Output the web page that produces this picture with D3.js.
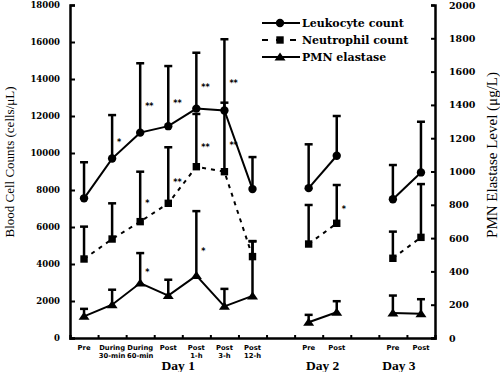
<!DOCTYPE html>
<html>
<head>
<meta charset="utf-8">
<script src="https://cdn.jsdelivr.net/npm/d3@7/dist/d3.min.js"></script>
<style>
  body { margin: 0; background: #fff; }
  .tick text { font-family: "DejaVu Serif", serif; font-weight: bold; }
</style>
</head>
<body>
<div class="chart"></div>
<script>
// time points (two-line labels), day each belongs to
var categories = [["Pre"], ["During", "30-min"], ["During", "60-min"], ["Post"], ["Post", "1-h"], ["Post", "3-h"], ["Post", "12-h"],
                  ["Pre"], ["Post"], ["Pre"], ["Post"]];
var dayOf = [0, 0, 0, 0, 0, 0, 0, 1, 1, 2, 2];
var days = ["Day 1", "Day 2", "Day 3"];
// slot on the x axis (gaps between days)
var slots = [0, 1, 2, 3, 4, 5, 6, 8, 9, 11, 12];

// Blood cell counts (cells/uL): mean and top of the error bar
var leukocyte    = [7550, 9700, 11100, 11450, 12400, 12300, 8050, 8100, 9850, 7500, 8950];
var leukocyteTop = [9500, 12050, 14850, 14700, 15420, 16150, 9780, 10470, 12000, 9350, 11690];
var neutrophil    = [4270, 5350, 6290, 7280, 9260, 8990, 4400, 5080, 6200, 4310, 5440];
var neutrophilTop = [6020, 7280, 8990, 10310, 12110, 12720, 5240, 7190, 8270, 5750, 8320];
// PMN elastase (ug/L)
var elastase    = [130, 200, 330, 255, 375, 190, 253, 95, 155, 150, 145];
var elastaseTop = [175, 290, 510, 350, 762, 295, 580, 139, 221, 255, 233];

// significance marks
var leukocyteSig  = ["", "*", "**", "**", "**", "**", "", "", "", "", ""];
var neutrophilSig = ["", "", "*", "**", "**", "**", "", "", "*", "", ""];
var elastaseSig   = ["", "", "*", "", "*", "", "", "", "", "", ""];

var leftTicks = d3.range(0, 18001, 2000);
var rightTicks = d3.range(0, 2001, 200);

var svgWidth = 500, svgHeight = 372;
var margin = { top: 5, right: 65, bottom: 34, left: 70 };
var width = svgWidth - margin.left - margin.right;
var height = svgHeight - margin.top - margin.bottom;

var svg = d3.select(".chart").append("svg")
  .attr("width", svgWidth)
  .attr("height", svgHeight);

var g = svg.append("g")
  .attr("transform", `translate(${margin.left}, ${margin.top})`);

var x = d3.scaleLinear().domain([0, 13]).range([0, width]);
var yL = d3.scaleLinear().domain([0, 18000]).range([height, 0]);
var yR = d3.scaleLinear().domain([0, 2000]).range([height, 0]);
var xc = i => x(slots[i] + 0.5);

// axes
var leftAxis = d3.axisLeft(yL).tickValues(leftTicks).tickSize(-5).tickPadding(10).tickFormat(d3.format("d"));
var rightAxis = d3.axisRight(yR).tickValues(rightTicks).tickSize(-4).tickPadding(14).tickFormat(d3.format("d"));
var bottomAxis = d3.axisBottom(x).tickValues(d3.range(1, 13)).tickSize(-3).tickFormat("");

var la = g.append("g").call(leftAxis);
la.selectAll("text").attr("font-size", 8.5);
var ra = g.append("g").attr("transform", `translate(${width}, 0)`).call(rightAxis);
ra.selectAll("text").attr("font-size", 9.5);
var ba = g.append("g").attr("transform", `translate(0, ${height})`).call(bottomAxis);
[la, ra, ba].forEach(a => {
  a.select(".domain").attr("stroke-width", 2.5);
  a.selectAll(".tick line").attr("stroke-width", 2);
});

// category labels
categories.forEach(function(lines, i) {
  var t = g.append("text")
    .attr("x", xc(i))
    .attr("y", height + 12)
    .attr("text-anchor", "middle")
    .attr("font-family", "DejaVu Sans, sans-serif")
    .attr("font-weight", "bold")
    .attr("font-size", 6.8);
  lines.forEach((s, k) => t.append("tspan").attr("x", xc(i)).attr("dy", k ? 7.5 : 0).text(s));
});

var dayShift = [10, 0, -8];
days.forEach(function(name, d) {
  var idx = d3.range(slots.length).filter(i => dayOf[i] === d);
  g.append("text")
    .attr("x", d3.mean(idx, xc) + dayShift[d])
    .attr("y", height + 32)
    .attr("text-anchor", "middle")
    .attr("font-family", "Liberation Serif, serif")
    .attr("font-weight", "bold")
    .attr("font-size", 13.5)
    .text(name);
});

// axis titles
svg.append("text")
  .attr("transform", "translate(9, 162) rotate(-90)")
  .attr("text-anchor", "middle")
  .attr("dominant-baseline", "central")
  .attr("font-family", "Liberation Serif, serif")
  .attr("font-size", 13)
  .text("Blood Cell Counts (cells/\u03bcL)");

svg.append("text")
  .attr("transform", "translate(492, 155) rotate(-90)")
  .attr("text-anchor", "middle")
  .attr("dominant-baseline", "central")
  .attr("font-family", "Liberation Serif, serif")
  .attr("font-size", 15)
  .text("PMN Elastase Level (\u03bcg/L)");

// one series: error bars, connecting lines per day, markers, stars
function drawSeries(mean, top, sig, y, dash, marker) {
  var idx = d3.range(mean.length);

  idx.forEach(function(i) {
    g.append("line")
      .attr("x1", xc(i)).attr("x2", xc(i))
      .attr("y1", y(mean[i])).attr("y2", y(top[i]))
      .attr("stroke", "#000").attr("stroke-width", 2.5);
    g.append("line")
      .attr("x1", xc(i) - 4).attr("x2", xc(i) + 4)
      .attr("y1", y(top[i])).attr("y2", y(top[i]))
      .attr("stroke", "#000").attr("stroke-width", 2.5);
    if (sig[i]) {
      g.append("text")
        .attr("x", xc(i) + 5)
        .attr("y", y(mean[i] + 0.4 * (top[i] - mean[i])) + 4)
        .attr("font-family", "DejaVu Sans, sans-serif")
        .attr("font-weight", "bold")
        .attr("font-size", 8)
        .text(sig[i]);
    }
  });

  var line = d3.line().x(i => xc(i)).y(i => y(mean[i]));
  days.forEach(function(name, d) {
    g.append("path")
      .datum(idx.filter(i => dayOf[i] === d))
      .attr("d", line)
      .attr("fill", "none")
      .attr("stroke", "#000")
      .attr("stroke-width", 2)
      .attr("stroke-dasharray", dash);
  });

  g.selectAll(null)
    .data(idx)
    .enter()
    .append("path")
    .attr("transform", i => `translate(${xc(i)}, ${y(mean[i])})`)
    .attr("d", marker)
    .attr("fill", "#000");
}

var circleMark = d3.symbol(d3.symbolCircle, 55)();
var squareMark = d3.symbol(d3.symbolSquare, 55)();
var triangleMark = "M0,-4.5L5.5,3.5L-5.5,3.5Z";

drawSeries(leukocyte, leukocyteTop, leukocyteSig, yL, null, circleMark);
drawSeries(neutrophil, neutrophilTop, neutrophilSig, yL, "4,5", squareMark);
drawSeries(elastase, elastaseTop, elastaseSig, yR, null, triangleMark);

// legend
var legend = [
  { label: "Leukocyte count", dash: null, mark: circleMark },
  { label: "Neutrophil count", dash: "6,8", mark: squareMark },
  { label: "PMN elastase", dash: null, mark: triangleMark }
];
var lg = svg.append("g").attr("transform", "translate(262, 23)");
legend.forEach(function(d, k) {
  var row = lg.append("g").attr("transform", `translate(0, ${k * 17})`);
  row.append("line")
    .attr("x1", 0).attr("x2", 38)
    .attr("stroke", "#000").attr("stroke-width", 2)
    .attr("stroke-dasharray", d.dash);
  row.append("path")
    .attr("transform", "translate(18, 0)")
    .attr("d", d.mark)
    .attr("fill", "#000");
  row.append("text")
    .attr("x", 40).attr("y", 4)
    .attr("font-family", "DejaVu Serif, serif")
    .attr("font-weight", "bold")
    .attr("font-size", 11)
    .text(d.label);
});
</script>
</body>
</html>
